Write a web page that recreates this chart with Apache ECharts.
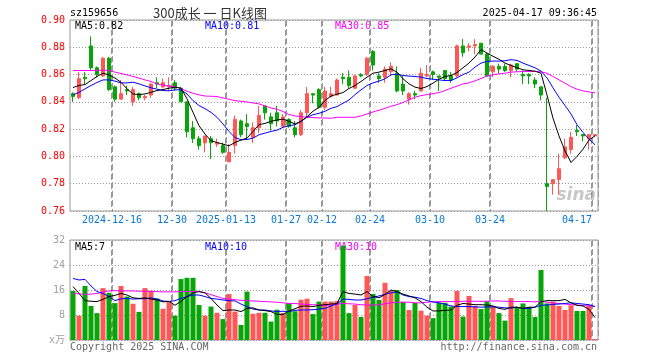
<!DOCTYPE html>
<html><head><meta charset="utf-8">
<script src="https://cdn.jsdelivr.net/npm/echarts@6/dist/echarts.min.js"></script>
<style>html,body{margin:0;padding:0;background:#fff}#c{width:660px;height:360px}</style>
</head><body><div id="c"></div>
<script>
const dates = ['2024-12-05','2024-12-06','2024-12-09','2024-12-10','2024-12-11','2024-12-12','2024-12-13',
'2024-12-16','2024-12-17','2024-12-18','2024-12-19','2024-12-20','2024-12-23','2024-12-24','2024-12-25','2024-12-26','2024-12-27',
'2024-12-30','2024-12-31','2025-01-02','2025-01-03','2025-01-06','2025-01-07','2025-01-08','2025-01-09','2025-01-10',
'2025-01-13','2025-01-14','2025-01-15','2025-01-16','2025-01-17','2025-01-20','2025-01-21','2025-01-22','2025-01-23','2025-01-24',
'2025-01-27','2025-02-05','2025-02-06','2025-02-07','2025-02-10','2025-02-11',
'2025-02-12','2025-02-13','2025-02-14','2025-02-17','2025-02-18','2025-02-19','2025-02-20','2025-02-21',
'2025-02-24','2025-02-25','2025-02-26','2025-02-27','2025-02-28','2025-03-03','2025-03-04','2025-03-05','2025-03-06','2025-03-07',
'2025-03-10','2025-03-11','2025-03-12','2025-03-13','2025-03-14','2025-03-17','2025-03-18','2025-03-19','2025-03-20','2025-03-21',
'2025-03-24','2025-03-25','2025-03-26','2025-03-27','2025-03-28','2025-03-31','2025-04-01','2025-04-02','2025-04-03',
'2025-04-07','2025-04-08','2025-04-09','2025-04-10','2025-04-11','2025-04-14','2025-04-15','2025-04-16','2025-04-17'];

const labelIdx  = [7, 17, 26, 36, 42, 50, 60, 70, 87];
const labelText = ['2024-12-16','12-30','2025-01-13','01-27','02-12','02-24','03-10','03-24','04-17'];

const open = [.846,.843,.858,.881,.865,.859,.872,.851,.842,.849, .840,.846,.843,.845,.854,.851,.851,.854,.850,.840,
 .821,.813,.810,.813,.809,.808,.796,.808,.826,.824, .814,.821,.837,.829,.832,.822,.827,.821,.816,.832,
 .846,.849,.836,.844,.845,.858,.858,.850,.860,.860, .877,.859,.858,.862,.861,.853,.842,.846,.848,.859,
 .862,.859,.863,.859,.859,.881,.880,.881,.883,.875, .862,.866,.866,.863,.868,.860,.860,.856,.851,.780,
 .780,.783,.799,.805,.819,.816,.813,.815];
const close = [.844,.857,.857,.865,.860,.872,.849,.842,.846,.848, .849,.843,.844,.853,.853,.854,.852,.850,.840,.818,
 .813,.808,.815,.810,.810,.803,.803,.827,.816,.822, .821,.830,.832,.824,.826,.829,.822,.816,.832,.846,
 .845,.836,.848,.846,.856,.857,.852,.859,.859,.872, .867,.857,.864,.866,.848,.848,.846,.845,.861,.860,
 .860,.858,.857,.856,.881,.876,.881,.882,.875,.859, .866,.864,.863,.867,.864,.859,.859,.853,.845,.778,
 .783,.791,.807,.814,.818,.815,.816,.816];
const low = [.840,.842,.853,.863,.858,.858,.848,.840,.842,.845, .837,.841,.841,.843,.850,.850,.848,.848,.840,.814,
 .810,.805,.803,.798,.807,.802,.796,.802,.814,.813, .810,.817,.827,.819,.822,.821,.821,.814,.815,.829,
 .839,.835,.834,.843,.845,.853,.850,.850,.858,.859, .863,.854,.854,.859,.847,.845,.838,.842,.848,.858,
 .856,.848,.856,.854,.858,.873,.877,.875,.875,.859, .858,.861,.862,.858,.862,.853,.853,.850,.841,.760,
 .772,.772,.798,.802,.815,.811,.805,.815];
const high = [.847,.862,.862,.888,.866,.873,.873,.852,.856,.852, .851,.847,.845,.854,.858,.857,.858,.856,.851,.840,
 .826,.815,.815,.815,.813,.810,.809,.830,.827,.831, .825,.837,.837,.832,.837,.831,.828,.826,.834,.851,
 .846,.850,.851,.851,.857,.861,.863,.860,.861,.873, .878,.861,.866,.869,.866,.859,.847,.848,.865,.867,
 .863,.859,.863,.862,.882,.886,.883,.886,.883,.876, .867,.868,.868,.868,.868,.863,.861,.858,.851,.843,
 .783,.802,.813,.818,.823,.816,.816,.816];

const ma5 = [0.8505,0.852,0.8527,0.8556,0.8586,0.861,0.8598,0.8574,0.8544,0.8495, 0.8458,0.8453,0.8458,0.847,0.8483,0.849,0.85,0.8508,0.85,0.8422,
 0.8323,0.8225,0.8164,0.8115,0.8102,0.809,0.8078,0.8102,0.812,0.8134, 0.8183,0.8233,0.8242,0.8257,0.8267,0.8274,0.8257,0.8238,0.8257,0.8292,
 0.8331,0.836,0.8409,0.8443,0.8456,0.8468,0.8498,0.852,0.8549,0.8581, 0.861,0.8618,0.863,0.8642,0.8618,0.8569,0.8532,0.8508,0.8498,0.8512,
 0.8537,0.8566,0.8586,0.8593,0.8615,0.865,0.8684,0.8729,0.8783,0.8758, 0.8734,0.8712,0.8684,0.8667,0.865,0.8635,0.863,0.8625,0.861,0.845,
 0.828,0.815,0.804,0.7956,0.800,0.8053,0.812,0.8151];
const ma10 = [0.8451,0.847,0.8495,0.852,0.8542,0.8561,0.8561,0.8552,0.8539,0.8539, 0.8544,0.8532,0.8517,0.8503,0.8493,0.8483,0.8481,0.8488,0.8488,0.8458,
 0.8409,0.8373,0.835,0.8323,0.8287,0.8238,0.8183,0.8139,0.8122,0.8124, 0.8134,0.8159,0.8171,0.8183,0.8193,0.8213,0.8225,0.8232,0.8257,0.8287,
 0.8306,0.8316,0.8331,0.8353,0.8365,0.839,0.8414,0.8453,0.8488,0.852, 0.8539,0.8552,0.8569,0.8598,0.8603,0.8593,0.8589,0.8586,0.8581,0.8571,
 0.8566,0.8561,0.8556,0.8556,0.8576,0.86,0.8618,0.8655,0.8684,0.8697, 0.8699,0.8699,0.8701,0.8709,0.8704,0.8684,0.8667,0.865,0.8625,0.8576,
 0.8503,0.8434,0.8373,0.8311,0.8233,0.8176,0.8127,0.8085];
const ma30 = [0.863,0.863,0.863,0.863,0.863,0.8633,0.863,0.8618,0.8608,0.8598, 0.8586,0.8574,0.8561,0.8549,0.8532,0.8522,0.8515,0.851,0.8498,0.8478,
 0.8463,0.8451,0.8443,0.8441,0.8439,0.8429,0.8419,0.8409,0.8404,0.8399, 0.8392,0.8385,0.837,0.8355,0.8346,0.8329,0.8307,0.8297,0.8292,0.8287,
 0.8285,0.8282,0.8282,0.828,0.8287,0.8287,0.8287,0.8287,0.8297,0.8311, 0.8326,0.8338,0.8353,0.8368,0.838,0.8395,0.8414,0.8434,0.8446,0.8453,
 0.846,0.8468,0.8483,0.85,0.8515,0.8532,0.8539,0.8554,0.8571,0.8589, 0.8598,0.8606,0.861,0.8618,0.862,0.8623,0.8623,0.8623,0.862,0.861,
 0.8586,0.8561,0.8537,0.8512,0.8493,0.848,0.8473,0.8466];

const vol = [15.7,7.8,17.3,10.9,8.6,16.6,15.1,11.8,17.3,13.9, 11.6,9.0,16.6,15.8,13.3,10.0,12.5,7.8,19.5,19.9,
 19.9,11.2,7.8,10.7,8.7,6.7,14.7,9.1,4.8,15.5, 8.4,8.7,8.7,5.9,9.7,8.6,11.8,9.2,12.9,13.2,
 8.3,12.3,12.3,12.3,12.5,30.2,8.6,11.2,7.4,20.5, 14.7,12.8,18.3,15.7,16.0,12.2,9.6,11.9,9.4,7.8,
 7.0,11.9,11.9,10.7,15.7,7.5,14.1,10.9,9.9,12.4, 10.9,8.6,6.2,13.4,10.5,11.7,10.5,7.4,22.4,11.7,
 12.3,10.9,9.6,11.1,9.3,9.3,11.1,0.3];
const vma5 = [17.1,14.9,12.6,12.4,12.3,13.0,13.9,14.3,14.9,14.4, 13.5,13.3,13.5,13.1,12.8,12.2,12.4,11.1,12.4,13.9,
 15.1,15.5,15.1,13.3,11.2,9.4,9.6,9.6,9.1,10.1, 10.3,9.6,9.4,9.1,8.2,8.2,9.3,10.0,10.8,10.9,
 10.7,11.1,11.3,11.5,11.7,15.5,14.9,14.7,14.4,15.5, 13.9,13.5,14.6,16.0,15.5,14.7,14.1,13.5,12.3,10.5,
 9.3,9.3,9.5,9.6,11.1,11.7,11.5,11.3,11.3,11.2, 10.9,10.1,9.8,10.5,10.5,10.1,10.5,10.5,12.3,12.6,
 12.6,12.6,13.0,11.9,11.1,10.9,9.8,7.2];
const vma10 = [19.7,19.2,19.4,17.3,15.5,14.9,13.9,12.6,13.2,13.3, 13.1,13.2,13.2,13.5,13.1,12.5,12.3,12.6,13.3,13.9,
 14.4,14.4,13.9,13.3,13.1,12.8,12.6,12.5,11.5,10.7, 9.9,9.6,9.6,9.3,9.1,9.2,9.1,9.5,9.6,9.6,
 9.7,9.9,10.1,10.9,11.5,13.1,13.0,12.8,12.8,13.2, 13.7,14.1,14.6,15.1,15.4,14.4,13.9,13.7,13.3,12.6,
 12.2,11.9,11.5,10.9,10.7,10.7,10.7,10.6,10.5,10.6, 10.6,10.5,10.3,10.2,10.5,10.1,10.1,10.5,11.1,11.2,
 11.4,11.5,11.7,11.9,11.7,11.5,11.3,10.7];
const vma30 = [14.9,14.8,14.6,14.7,14.9,15.4,15.7,15.8,15.7,15.7, 15.7,15.6,15.6,15.5,15.5,15.4,15.4,15.4,15.5,15.5,
 15.5,15.5,15.1,14.5,13.9,13.3,13.1,12.9,12.7,12.6, 12.5,12.4,12.3,12.2,12.1,11.9,11.7,11.7,11.5,11.4,
 11.3,11.2,11.1,11.2,11.5,11.7,11.6,11.5,11.3,11.2, 11.2,11.3,11.6,11.9,12.1,12.1,12.1,11.9,11.9,12.1,
 12.2,12.3,12.3,12.3,12.3,12.4,12.4,12.4,12.4,12.4, 12.5,12.5,12.4,12.3,12.3,12.3,12.3,12.2,12.4,12.1,
 11.8,11.7,11.5,11.3,11.2,11.0,10.9,10.7];

const MONO = '"DejaVu Sans Mono", "Noto Sans CJK SC", monospace';
const RED = '#ff5656', GREEN = '#07a507';
const DOTC = '#999999';
const DASHC = '#999999';

const candles = dates.map((d, i) => [open[i], close[i], low[i], high[i]]);
const volData = vol.map((v, i) => ({ value: v, itemStyle: { color: close[i] >= open[i] ? RED : GREEN } }));
const isSplit = (i) => labelIdx.indexOf(Number(i)) >= 0;
const hiddenTick = { show: true, length: 0, lineStyle: { color: 'rgba(0,0,0,0)' } };

function xAxisFor(g, showLabels) {
  return {
    type: 'category', gridIndex: g, data: dates, boundaryGap: true,
    axisLine: { show: false }, axisTick: Object.assign({ interval: (i) => isSplit(i) }, hiddenTick),
    axisLabel: showLabels ? {
      interval: (i) => isSplit(i),
      formatter: (v, i) => {
        const k = labelIdx.indexOf(i);
        if (k < 0) return '';
        return (i === dates.length - 1 ? '{e|' : '{c|') + labelText[k] + '}';
      },
      margin: 4,
      rich: {
        c: { color: '#0a78d2', fontFamily: MONO, fontSize: 10, padding: [0, 6, 0, 0] },
        e: { color: '#0a78d2', fontFamily: MONO, fontSize: 10, padding: [0, 36, 0, 0] }
      }
    } : { show: false },
    splitLine: { show: true, interval: (i) => isSplit(i), lineStyle: { color: DASHC, width: 1, type: [6, 3] } }
  };
}

function txt(x, y, s, color, align, font) {
  return { type: 'text', x: x, y: y, silent: true,
    style: { text: s, fill: color, font: font || ('10px ' + MONO), textAlign: align || 'left', textVerticalAlign: 'middle' } };
}

const GRID0 = { left: 70, top: 20, width: 528, height: 191 };
const GRID1 = { left: 70, top: 240, width: 528, height: 100 };

const chart = echarts.init(document.getElementById('c'));
chart.setOption({
  animation: false,
  grid: [
    Object.assign({ show: true, borderColor: '#999999', borderWidth: 1 }, GRID0),
    Object.assign({ show: true, borderColor: '#999999', borderWidth: 1 }, GRID1)
  ],
  xAxis: [xAxisFor(0, true), xAxisFor(1, false)],
  yAxis: [
    { type: 'value', gridIndex: 0, min: 0.76, max: 0.90, interval: 0.02,
      axisLine: { show: false }, axisTick: hiddenTick,
      axisLabel: { color: '#ff0000', fontFamily: MONO, fontSize: 10, margin: 5, formatter: (v) => v.toFixed(2) },
      splitLine: { show: true, lineStyle: { color: DOTC, width: 1, type: [1, 2] } } },
    { type: 'value', gridIndex: 1, min: 0, max: 32, interval: 8,
      axisLine: { show: false }, axisTick: hiddenTick,
      axisLabel: { color: '#a0a0a0', fontFamily: MONO, fontSize: 10, margin: 5, formatter: (v) => v === 0 ? 'x万' : String(v) },
      splitLine: { show: true, lineStyle: { color: DOTC, width: 1, type: [1, 2] } } }
  ],
  series: [
    { type: 'candlestick', xAxisIndex: 0, yAxisIndex: 0, data: candles, barWidth: 4, silent: true,
      itemStyle: { color: RED, color0: GREEN, borderColor: RED, borderColor0: GREEN, borderWidth: 1 } },
    { type: 'line', xAxisIndex: 0, yAxisIndex: 0, data: ma30, symbol: 'none', silent: true, lineStyle: { color: '#ff00ff', width: 1 } },
    { type: 'line', xAxisIndex: 0, yAxisIndex: 0, data: ma10, symbol: 'none', silent: true, lineStyle: { color: '#0000ff', width: 1 } },
    { type: 'line', xAxisIndex: 0, yAxisIndex: 0, data: ma5, symbol: 'none', silent: true, lineStyle: { color: '#000000', width: 1 } },
    { type: 'bar', xAxisIndex: 1, yAxisIndex: 1, data: volData, barWidth: 5, silent: true },
    { type: 'line', xAxisIndex: 1, yAxisIndex: 1, data: vma30, symbol: 'none', silent: true, lineStyle: { color: '#ff00ff', width: 1 } },
    { type: 'line', xAxisIndex: 1, yAxisIndex: 1, data: vma10, symbol: 'none', silent: true, lineStyle: { color: '#0000ff', width: 1 } },
    { type: 'line', xAxisIndex: 1, yAxisIndex: 1, data: vma5, symbol: 'none', silent: true, lineStyle: { color: '#000000', width: 1 } }
  ]
});

const graphics = [
  txt(70, 13, 'sz159656', '#000000'),
  txt(210, 13, '300成长 一 日K线图', '#333333', 'center', '13px "Noto Sans CJK SC", sans-serif'),
  txt(597, 13, '2025-04-17 09:36:45', '#000000', 'right'),
  txt(75, 26, 'MA5:0.82', '#000000'),
  txt(205, 26, 'MA10:0.81', '#0000ff'),
  txt(335, 26, 'MA30:0.85', '#ff00ff'),
  txt(75, 247, 'MA5:7', '#000000'),
  txt(205, 247, 'MA10:10', '#0000ff'),
  txt(335, 247, 'MA30:10', '#ff00ff'),
  txt(70, 347, 'Copyright 2025 SINA.COM', '#666666'),
  txt(597, 347, 'http://finance.sina.com.cn', '#666666', 'right'),
  txt(596, 196, 'sina', 'rgba(180,180,180,0.75)', 'right', 'italic bold 17px "DejaVu Sans", sans-serif')
];
// date lines at the left edge of each labelled band, positioned through the category axis scale
const p0 = chart.convertToPixel({ xAxisIndex: 0 }, 0);
const p1 = chart.convertToPixel({ xAxisIndex: 0 }, 1);
const bw = p1 - p0;
labelIdx.forEach((i) => {
  const cx = chart.convertToPixel({ xAxisIndex: 0 }, i);
  const x = Math.round(cx - bw / 2) - 0.5;
  [GRID0, GRID1].forEach((g) => {
    graphics.push({ type: 'line', silent: true,
      shape: { x1: x, y1: g.top + 1, x2: x, y2: g.top + g.height },
      style: { stroke: DASHC, lineWidth: 1, lineDash: [6, 3] } });
  });
});
chart.setOption({ graphic: graphics });
</script>
</body></html>
